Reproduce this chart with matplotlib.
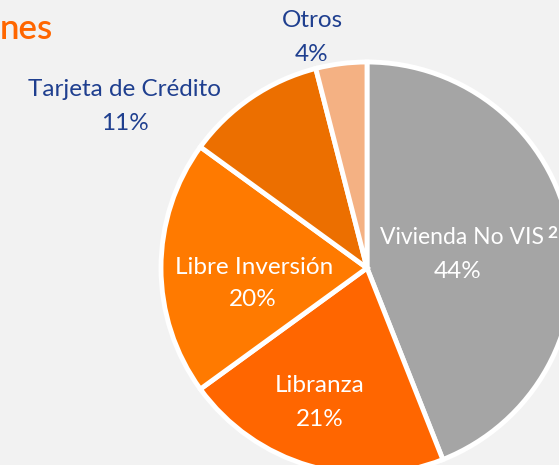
import matplotlib.pyplot as plt

# datos del gráfico
labels = ['Vivienda No VIS', 'Libranza', 'Libre Inversión', 'Tarjeta de Crédito', 'Otros']
shares = [44, 21, 20, 11, 4]
colors = ['#a5a5a5', '#ff6600', '#ff7a00', '#ec6f00', '#f4b183']

W, H = 559, 465
bg = '#f2f2f2'
blue = '#1f3f8f'

plt.rcParams['font.family'] = ['Lato', 'DejaVu Sans']

fig = plt.figure(figsize=(W / 100, H / 100), dpi=100, facecolor=bg)
ax = fig.add_axes([0, 0, 1, 1])
ax.set_facecolor(bg)

cx, cy, r = 367, H - 268, 206
ax.pie(shares, colors=colors, startangle=90, counterclock=False,
       center=(cx, cy), radius=r, frame=True,
       wedgeprops=dict(edgecolor='white', linewidth=3.5))
ax.set_xlim(0, W)
ax.set_ylim(0, H)
ax.axis('off')

# etiquetas (pixeles desde arriba)
fs = 17.5
def lab(x, y, s, c, size=fs, ha='center'):
    ax.text(x, H - y, s, color=c, fontsize=size, ha=ha, va='center')

lab(544, 238, labels[0], 'white', size=16.5, ha='right')
ax.text(547, H - 233, '2', color='white', fontsize=12.5, fontweight='bold', ha='left', va='center')
lab(458, 272, '%d%%' % shares[0], 'white')

lab(320, 385, labels[1], 'white')
lab(320, 419, '%d%%' % shares[1], 'white')

lab(254, 267, labels[2], 'white')
lab(253, 300, '%d%%' % shares[2], 'white')

lab(125, 89, labels[3], blue)
lab(125, 123, '%d%%' % shares[3], blue)

lab(312, 21, labels[4], blue)
lab(312, 55, '%d%%' % shares[4], blue)

# título recortado
ax.text(0, H - 29, 'nes', color='#ff6600', fontsize=25, fontweight='semibold', ha='left', va='center')

fig.savefig('out.png', dpi=100, facecolor=bg)
